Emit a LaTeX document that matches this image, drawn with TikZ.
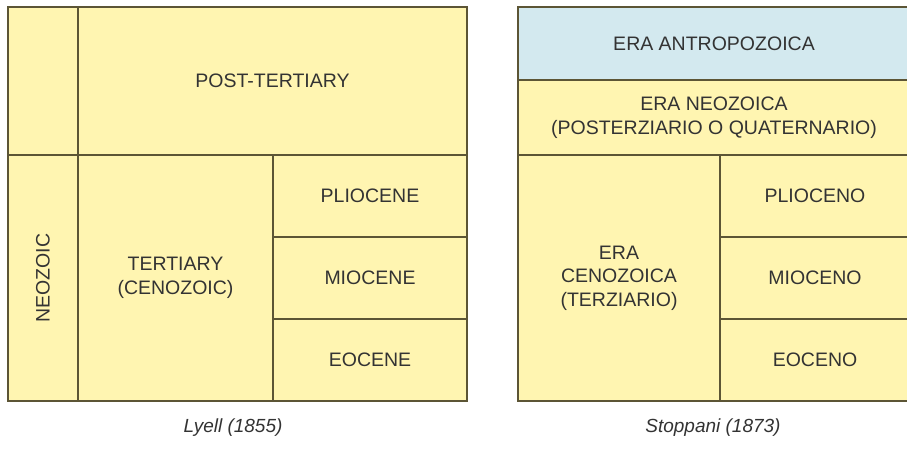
\documentclass[tikz,border=0pt]{standalone}
\usepackage{fontspec}
\setmainfont{Liberation Sans}
\usetikzlibrary{positioning}
\definecolor{cellfill}{HTML}{FFF5B1}
\definecolor{topfill}{HTML}{D3E9EF}
\definecolor{rule}{HTML}{5C5535}
\definecolor{ink}{HTML}{333333}
\tikzset{
  cell/.style={draw=rule, fill=cellfill, line width=1.1pt, inner sep=0pt, outer sep=0pt,
    anchor=north west, align=center, text=ink, font=\fontsize{19.5}{23.5}\selectfont},
  caption/.style={text=ink, font=\fontsize{19}{23}\selectfont\itshape}
}
\begin{document}
\begin{tikzpicture}[x=1pt,y=-1pt]
  \useasboundingbox (0,0) rectangle (907,448);
  % Lyell
  \node[cell, minimum width=70pt, minimum height=148pt] (blank) at (8,7) {};
  \node[cell, minimum width=70pt, minimum height=246pt] (neo) at (8,155) {\rotatebox{90}{NEOZOIC}};
  \node[cell, minimum width=389pt, minimum height=148pt] (post) at (78,7) {POST-TERTIARY};
  \node[cell, minimum width=195pt, minimum height=246pt] (tert) at (78,155) {TERTIARY\\(CENOZOIC)};
  \node[cell, minimum width=194pt, minimum height=82pt] (plio) at (273,155) {PLIOCENE};
  \node[cell, minimum width=194pt, minimum height=82pt] (mio) at (273,237) {MIOCENE};
  \node[cell, minimum width=194pt, minimum height=82pt] (eo) at (273,319) {EOCENE};
  % Stoppani
  \node[cell, fill=topfill, minimum width=392pt, minimum height=73pt] (antro) at (518,7) {ERA ANTROPOZOICA};
  \node[cell, minimum width=392pt, minimum height=75pt] (neoz) at (518,80) {ERA NEOZOICA\\(POSTERZIARIO O QUATERNARIO)};
  \node[cell, minimum width=202pt, minimum height=246pt] (ceno) at (518,155) {ERA\\CENOZOICA\\(TERZIARIO)};
  \node[cell, minimum width=190pt, minimum height=82pt] (plioc) at (720,155) {PLIOCENO};
  \node[cell, minimum width=190pt, minimum height=82pt] (mioc) at (720,237) {MIOCENO};
  \node[cell, minimum width=190pt, minimum height=82pt] (eoc) at (720,319) {EOCENO};
  % captions
  \node[caption] (lyell) at (233,428) {Lyell (1855)};
  \node[caption] (stop) at (713,428) {Stoppani (1873)};
\end{tikzpicture}
\end{document}
